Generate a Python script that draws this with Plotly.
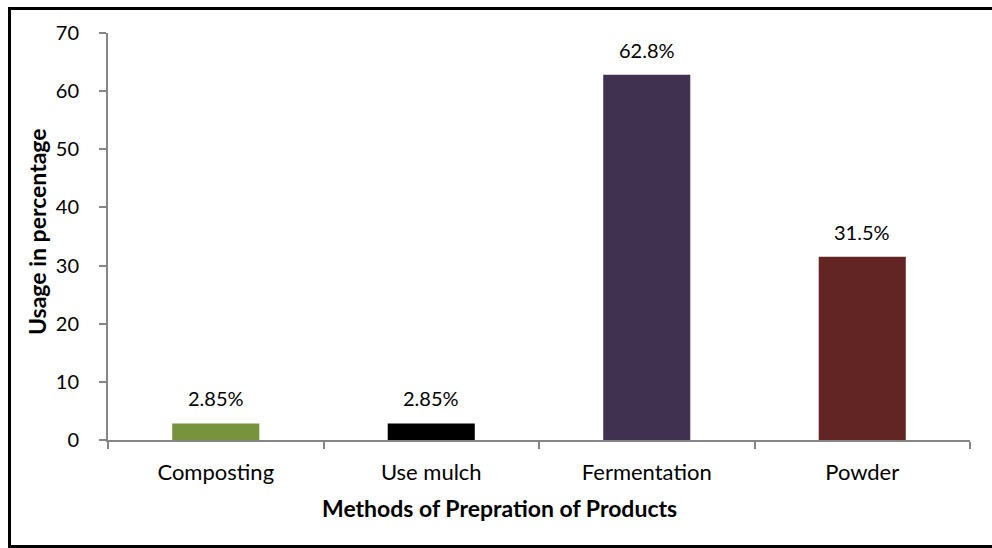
import plotly.graph_objects as go

categories = ["Composting", "Use mulch", "Fermentation", "Powder"]
values = [2.85, 2.85, 62.8, 31.5]
value_labels = ["2.85%", "2.85%", "62.8%", "31.5%"]
bar_colors = ["#77933C", "#000000", "#403151", "#632523"]
y_ticks = [0, 10, 20, 30, 40, 50, 60, 70]

FONT = "Lato"
L, R, T, B = 108, 22, 33, 108
W, H = 992, 548
pw = W - L - R
ph = H - T - B


def px_x(p):
    return (p - L) / pw


def px_y(p):
    return (H - B - p) / ph


fig = go.Figure(
    go.Bar(
        x=categories,
        y=values,
        marker=dict(color=bar_colors, line=dict(width=0)),
        width=0.404,
        hoverinfo="skip",
    )
)

for c, v, t in zip(categories, values, value_labels):
    fig.add_annotation(
        x=c, y=v, text=t, showarrow=False, yanchor="bottom", yshift=11,
        font=dict(family=FONT, size=20, color="#000000"),
    )

fig.add_annotation(
    xref="paper", yref="paper", x=px_x(499), y=px_y(508),
    xanchor="center", yanchor="middle",
    text="<b>Methods of Prepration of Products</b>", showarrow=False,
    font=dict(family=FONT, size=23, color="#000000"),
)
fig.add_annotation(
    xref="paper", yref="paper", x=px_x(37), y=px_y(232),
    xanchor="center", yanchor="middle",
    text="<b>Usage in percentage</b>", showarrow=False, textangle=-90,
    font=dict(family=FONT, size=23, color="#000000"),
)

# outer frame
fig.add_shape(type="line", xref="paper", yref="paper",
              x0=px_x(9.5), x1=px_x(9.5), y0=px_y(8.5), y1=px_y(546.5),
              line=dict(color="#000000", width=3))
fig.add_shape(type="line", xref="paper", yref="paper",
              x0=px_x(8), x1=px_x(1000), y0=px_y(8.5), y1=px_y(8.5),
              line=dict(color="#000000", width=3))
fig.add_shape(type="line", xref="paper", yref="paper",
              x0=px_x(8), x1=px_x(1000), y0=px_y(546.5), y1=px_y(546.5),
              line=dict(color="#000000", width=3))

fig.update_layout(
    width=W, height=H,
    margin=dict(l=L, r=R, t=T, b=B),
    paper_bgcolor="white", plot_bgcolor="white",
    showlegend=False,
    font=dict(family=FONT, size=20, color="#000000"),
    xaxis=dict(
        showgrid=False, showline=True, linecolor="#868686", linewidth=2,
        ticks="outside", tickson="boundaries", ticklen=7, tickcolor="#868686",
        tickwidth=2, ticklabelstandoff=12,
        tickfont=dict(family=FONT, size=22, color="#000000"),
    ),
    yaxis=dict(
        range=[0, 70], tickvals=y_ticks, showgrid=False, zeroline=False,
        showline=True, linecolor="#868686", linewidth=2,
        ticks="outside", ticklen=7, tickcolor="#868686", tickwidth=1.5,
        ticklabelstandoff=16,
        tickfont=dict(family=FONT, size=20, color="#000000"),
    ),
)

fig.write_html("out.html")
